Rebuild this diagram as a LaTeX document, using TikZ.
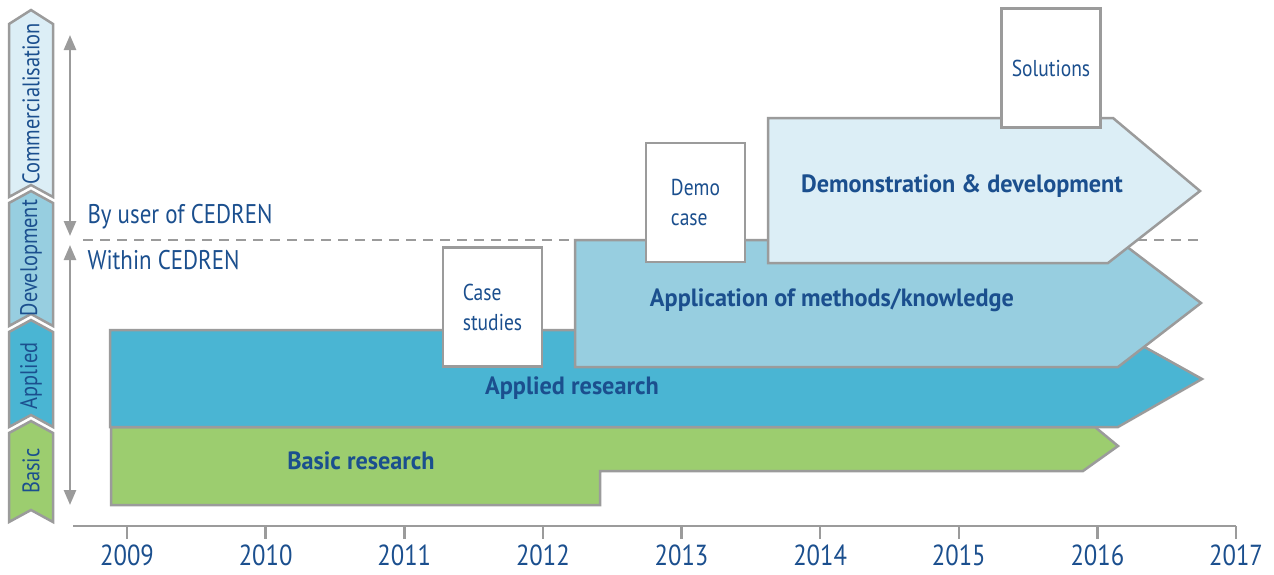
\documentclass[tikz,border=0pt]{standalone}
\usepackage{fontspec}
\setmainfont[FakeStretch=0.85]{PT Sans}
\newfontfamily\widebold[FakeStretch=0.97]{PT Sans}
\usetikzlibrary{arrows.meta}
\definecolor{cedblue}{HTML}{1B4F8E}
\definecolor{edgegray}{HTML}{9B9B9B}
\definecolor{palecol}{HTML}{DCEEF6}
\definecolor{devcol}{HTML}{97CEE0}
\definecolor{appcol}{HTML}{4AB5D3}
\definecolor{basiccol}{HTML}{9CCD6F}
\tikzset{
band/.style={draw=edgegray, line width=2.5pt, line join=miter},
levellabel/.style={rotate=90, text=cedblue, font=\fontsize{24}{26}\selectfont},
bandlabel/.style={text=cedblue, font=\widebold\bfseries\fontsize{25}{28}\selectfont},
milestone/.style={draw=edgegray, line width=2.5pt, fill=white, align=left,
  minimum width=99pt, minimum height=119pt, text=cedblue, font=\fontsize{23}{30}\selectfont},
sidetext/.style={anchor=west, text=cedblue, font=\fontsize{27}{28}\selectfont},
yearlabel/.style={text=cedblue, inner sep=0pt, font=\fontsize{29}{30}\selectfont},
levelarrow/.style={draw=edgegray, line width=2.5pt, {Triangle[length=15pt,width=12pt]}-{Triangle[length=15pt,width=12pt]}},
}

\begin{document}
\begin{tikzpicture}[x=1pt, y=-1pt]
    \useasboundingbox (0,0) rectangle (1274,574);

    %level chevrons on the left
    \draw[band, fill=palecol]  (9,24) -- (31,10) -- (53,24) -- (53,197) -- (31,185) -- (9,197) -- cycle;
    \draw[band, fill=devcol]   (9,203) -- (31,191) -- (53,203) -- (53,326) -- (31,314) -- (9,326) -- cycle;
    \draw[band, fill=appcol]   (9,332) -- (31,320) -- (53,332) -- (53,427) -- (31,415) -- (9,427) -- cycle;
    \draw[band, fill=basiccol] (9,433) -- (31,421) -- (53,433) -- (53,522) -- (31,510) -- (9,522) -- cycle;
    \node[levellabel] (comm)  at (31,104) {Commercialisation};
    \node[levellabel] (dev)   at (31,258) {Development};
    \node[levellabel] (appl)  at (31,376) {Applied};
    \node[levellabel] (basic) at (31,471) {Basic};

    %arrows
    \coordinate (usertop) at (70,35);
    \coordinate (userbot) at (70,236);
    \coordinate (intop)   at (70,245);
    \coordinate (inbot)   at (70,505);
    \draw[levelarrow] (usertop) -- (userbot);
    \draw[levelarrow] (intop) -- (inbot);

    %border between user and CEDREN
    \coordinate (dashL) at (83,240);
    \coordinate (dashR) at (1198,240);
    \draw[edgegray, line width=2pt, dash pattern=on 10pt off 7pt] (dashL) -- (dashR);
    \node[sidetext] (byuser) at (84,217) {By user of CEDREN};
    \node[sidetext] (within) at (84,260) {Within CEDREN};

    %time axis
    \draw[edgegray, line width=2.5pt] (73,526) -- (1236,526);
    \foreach \yr [count=\i from 0] in {2009,2010,2011,2012,2013,2014,2015,2016,2017} {
        \coordinate (tick\yr) at (127+138.625*\i,526);
        \draw[edgegray, line width=2.5pt] (tick\yr) -- ++(0,13);
        \node[yearlabel] (year\yr) at (127+138.625*\i,555) {\yr};
    }

    %bands
    \draw[band, fill=basiccol] (111,427) -- (1095,427) -- (1118,446) -- (1083,471) -- (600,471) -- (600,505) -- (111,505) -- cycle;
    \node[bandlabel] (basicres) at (361,461) {Basic research};

    \draw[band, fill=appcol] (110,330) -- (1114,330) -- (1202,379) -- (1118,427) -- (110,427) -- cycle;
    \node[bandlabel] (appliedres) at (572,388) {Applied research};

    \node[milestone] (casestudies) at (492.5,307) {Case\\studies};

    \draw[band, fill=devcol] (575,240) -- (1118,240) -- (1201,303) -- (1118,367) -- (575,367) -- cycle;
    \node[bandlabel] (methods) at (832,300) {Application of methods/knowledge};

    \node[milestone] (democase) at (695.5,202.5) {Demo\\case};

    \draw[band, fill=palecol] (768,118) -- (1113,118) -- (1200,191) -- (1108,263) -- (768,263) -- cycle;
    \node[bandlabel] (demodev) at (962,186) {Demonstration \& development};

    \node[milestone] (solutions) at (1051,68) {Solutions};
\end{tikzpicture}
\end{document}
